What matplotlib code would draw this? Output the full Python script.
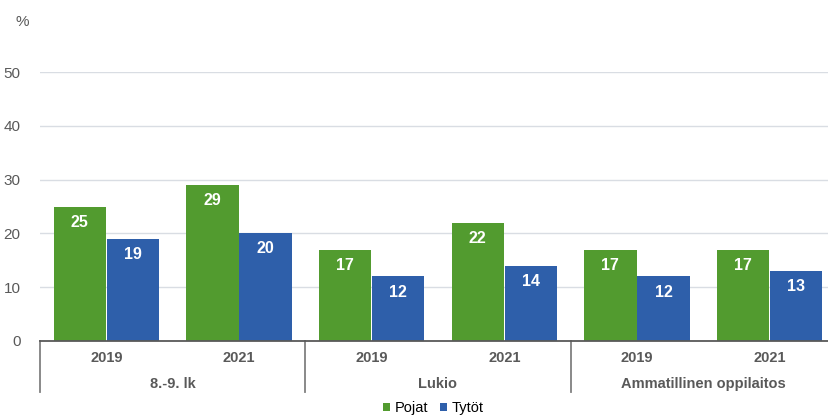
import matplotlib.pyplot as plt
import matplotlib.transforms as mtransforms
import numpy as np

groups = ['8.-9. lk', 'Lukio', 'Ammatillinen oppilaitos']
years = ['2019', '2021']
pojat = [25, 29, 17, 22, 17, 17]
tytot = [19, 20, 12, 14, 12, 13]
series_names = ['Pojat', 'Tytöt']
yticks = [0, 10, 20, 30, 40, 50]

green = '#529b2f'
blue = '#2e5faa'
text_gray = '#595959'


def main():
    plt.rcParams['font.family'] = ['Liberation Sans', 'DejaVu Sans']
    fig = plt.figure(figsize=(8.29, 4.16), dpi=100)
    ax = fig.add_axes([40 / 829, 75 / 416, 796 / 829, 269 / 416])

    n = len(pojat)
    x = np.arange(n)
    w = 0.395
    b1 = ax.bar(x - w / 2 - 0.003, pojat, w, color=green, label=series_names[0])
    b2 = ax.bar(x + w / 2 + 0.003, tytot, w, color=blue, label=series_names[1])

    for bars in (b1, b2):
        for rect in bars:
            h = rect.get_height()
            ax.text(rect.get_x() + rect.get_width() / 2, h - 1.5, '{:d}'.format(int(h)),
                    ha='center', va='top', color='white', fontsize=11.5, fontweight='bold')

    ax.set_xlim(-0.5, n - 0.5)
    ax.set_ylim(0, 50)
    ax.set_yticks(yticks)
    ax.tick_params(axis='y', length=0, labelsize=11, labelcolor=text_gray, pad=14)
    ax.set_xticks([])
    ax.yaxis.grid(True, color='#d9dde3', linewidth=1)
    ax.set_axisbelow(True)
    for s in ['top', 'right', 'left']:
        ax.spines[s].set_visible(False)
    ax.spines['bottom'].set_color('#595959')
    ax.spines['bottom'].set_linewidth(1.3)

    trans = mtransforms.blended_transform_factory(ax.transData, ax.transAxes)
    # year labels and group labels
    for i in range(n):
        ax.text(i, -0.065, years[i % 2], transform=trans, ha='center', va='center',
                fontsize=10.5, fontweight='bold', color=text_gray)
    for g, name in enumerate(groups):
        ax.text(2 * g + 0.5, -0.16, name, transform=trans, ha='center', va='center',
                fontsize=10.5, fontweight='bold', color=text_gray)
    for sep in [-0.5, 1.5, 3.5]:
        ax.plot([sep, sep], [0, -0.19], transform=trans, color='#808080',
                linewidth=1.3, clip_on=False)

    fig.text(22 / 829, 1 - 22 / 416, '%', ha='center', va='center', fontsize=11, color=text_gray)

    fig.legend(handles=[b1, b2], labels=series_names, loc='center',
               bbox_to_anchor=(433 / 829, 1 - 408 / 416), ncol=2, frameon=False,
               fontsize=10.5, handlelength=0.5, handleheight=0.5, handletextpad=0.3,
               columnspacing=0.8, borderpad=0)

    fig.savefig('out.png', dpi=100)


if __name__ == '__main__':
    main()
